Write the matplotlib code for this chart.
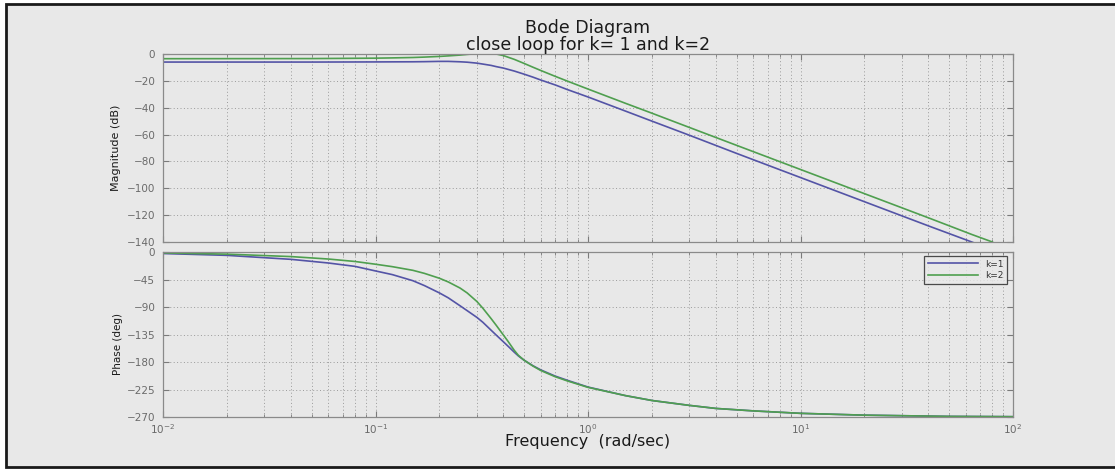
import numpy as np
import matplotlib.pyplot as plt
from matplotlib.patches import Rectangle
from matplotlib.ticker import LogLocator, NullFormatter

w_mag = [0.01, 0.05, 0.1, 0.12, 0.15, 0.17, 0.2, 0.22, 0.25, 0.27, 0.3, 0.32,
         0.35, 0.37, 0.4, 0.45, 0.5, 0.55, 0.6, 0.7, 0.8, 1.0, 1.5, 2.0, 3.0,
         5.0, 10.0, 20.0, 40.0, 64.0, 80.0]
mag_k1 = [-6.0, -6.0, -5.9, -5.85, -5.8, -5.7, -5.5, -5.5, -5.8, -6.1, -6.8,
          -7.5, -8.5, -9.4, -10.5, -12.7, -15.0, -17.2, -19.4, -23.0, -26.5,
          -32.0, -42.5, -50.0, -60.5, -74.0, -92.0, -110.0, -128.0, -140.0,
          -146.0]
mag_k2 = [-3.5, -3.4, -3.1, -2.9, -2.6, -2.3, -1.8, -1.4, -0.8, -0.3, 0.3,
          0.45, 0.4, 0.0, -1.2, -4.0, -7.0, -9.8, -12.3, -16.6, -20.2, -26.1,
          -36.7, -44.1, -54.7, -68.0, -86.0, -104.0, -122.0, -134.4, -140.0]

# phase, degrees
w_ph = [0.01, 0.02, 0.04, 0.06, 0.08, 0.1, 0.12, 0.15, 0.17, 0.2, 0.22, 0.25,
        0.27, 0.3, 0.32, 0.35, 0.37, 0.4, 0.42, 0.45, 0.47, 0.5, 0.55, 0.6,
        0.7, 0.8, 1.0, 1.5, 2.0, 3.0, 4.0, 6.0, 10.0, 20.0, 50.0, 100.0]
ph_k1 = [-2.5, -5.5, -12.0, -18.0, -23.5, -31.0, -37.0, -47.0, -55.0, -67.0,
         -75.0, -88.0, -96.0, -107.0, -115.0, -128.0, -136.0, -147.0, -154.0,
         -164.0, -170.0, -177.0, -186.0, -193.0, -203.0, -210.0, -221.0,
         -235.0, -243.0, -251.0, -256.0, -260.0, -264.0, -267.0, -269.0,
         -269.5]
ph_k2 = [-1.5, -3.5, -7.5, -11.5, -15.5, -20.0, -24.0, -30.0, -35.0, -43.0,
         -49.0, -59.0, -67.0, -81.0, -92.0, -109.0, -120.0, -136.0, -146.0,
         -161.0, -169.0, -177.0, -186.5, -194.0, -204.0, -211.0, -221.5,
         -235.0, -243.0, -251.0, -256.0, -260.0, -264.0, -267.0, -269.0,
         -269.5]

labels = ['k=1', 'k=2']
colors = ['#5454a6', '#4f9f4f']

W, H = 1115, 469
bg = '#e8e8e8'
tick_col = '#6a6a6a'

plt.rcParams['font.family'] = 'DejaVu Sans'
plt.rcParams['mathtext.fontset'] = 'dejavusans'

fig = plt.figure(figsize=(W / 100, H / 100), dpi=100)
fig.patch.set_facecolor('white')
fig.add_artist(Rectangle((6 / W, 2 / H), 1.0, 463 / H, transform=fig.transFigure,
                         facecolor=bg, edgecolor='#1a1a1a', lw=2, zorder=-5))

left, width = 163 / W, 850 / W
ax_m = fig.add_axes([left, 1 - 242 / H, width, 188 / H])
ax_p = fig.add_axes([left, 1 - 417 / H, width, 165 / H], sharex=ax_m)

ax_m.semilogx(w_mag, mag_k1, color=colors[0], lw=1.2)
ax_m.semilogx(w_mag, mag_k2, color=colors[1], lw=1.2)
ax_p.semilogx(w_ph, ph_k1, color=colors[0], lw=1.2, label=labels[0])
ax_p.semilogx(w_ph, ph_k2, color=colors[1], lw=1.2, label=labels[1])

for ax in (ax_m, ax_p):
    ax.set_facecolor(bg)
    ax.set_xlim(1e-2, 1e2)
    ax.xaxis.set_major_locator(LogLocator(base=10, numticks=10))
    ax.xaxis.set_minor_locator(LogLocator(base=10, subs=np.arange(2, 10), numticks=20))
    ax.grid(True, which='both', axis='x', color='#9a9a9a', ls=(0, (1, 2.5)), lw=0.7)
    ax.grid(True, which='major', axis='y', color='#9a9a9a', ls=(0, (1, 2.5)), lw=0.7)
    ax.tick_params(which='both', direction='in', top=True, right=True,
                   color='#7a7a7a', labelcolor=tick_col, labelsize=7.5)
    ax.tick_params(which='major', length=4)
    ax.tick_params(which='minor', length=2.5)
    ax.tick_params(axis='y', pad=5.5)
    for s in ax.spines.values():
        s.set_color('#8a8a8a')
        s.set_linewidth(0.9)

ax_m.set_ylim(-140, 0)
ax_m.set_yticks(np.arange(-140, 1, 20))
ax_m.tick_params(labelbottom=False)
ax_m.xaxis.set_minor_formatter(NullFormatter())

ax_p.set_ylim(-270, 0)
ax_p.set_yticks(np.arange(-270, 1, 45))
ax_p.xaxis.set_minor_formatter(NullFormatter())

ax_m.set_ylabel('Magnitude (dB)', fontsize=8, color='#1a1a1a', labelpad=3)
ax_p.set_ylabel('Phase (deg)', fontsize=7.5, color='#1a1a1a', labelpad=3)
ax_p.yaxis.set_label_coords(-0.047, 0.44)
ax_m.yaxis.set_label_coords(-0.049, 0.5)
ax_p.set_xlabel('Frequency  (rad/sec)', fontsize=11.5, color='#1a1a1a', labelpad=-1)
ax_m.set_title('Bode Diagram\nclose loop for k= 1 and k=2', fontsize=12.5,
               color='#1a1a1a', pad=3, linespacing=0.95)

leg = ax_p.legend(loc='upper right', fontsize=6.5, frameon=True, fancybox=False,
                  handlelength=5.5, borderpad=0.4, labelspacing=0.3,
                  borderaxespad=0, bbox_to_anchor=(0.993, 0.976))
leg.get_frame().set_edgecolor('#222222')
leg.get_frame().set_facecolor(bg)
leg.get_frame().set_linewidth(0.9)
for t in leg.get_texts():
    t.set_color('#333333')

fig.savefig('out.png', dpi=100, facecolor=fig.get_facecolor())
